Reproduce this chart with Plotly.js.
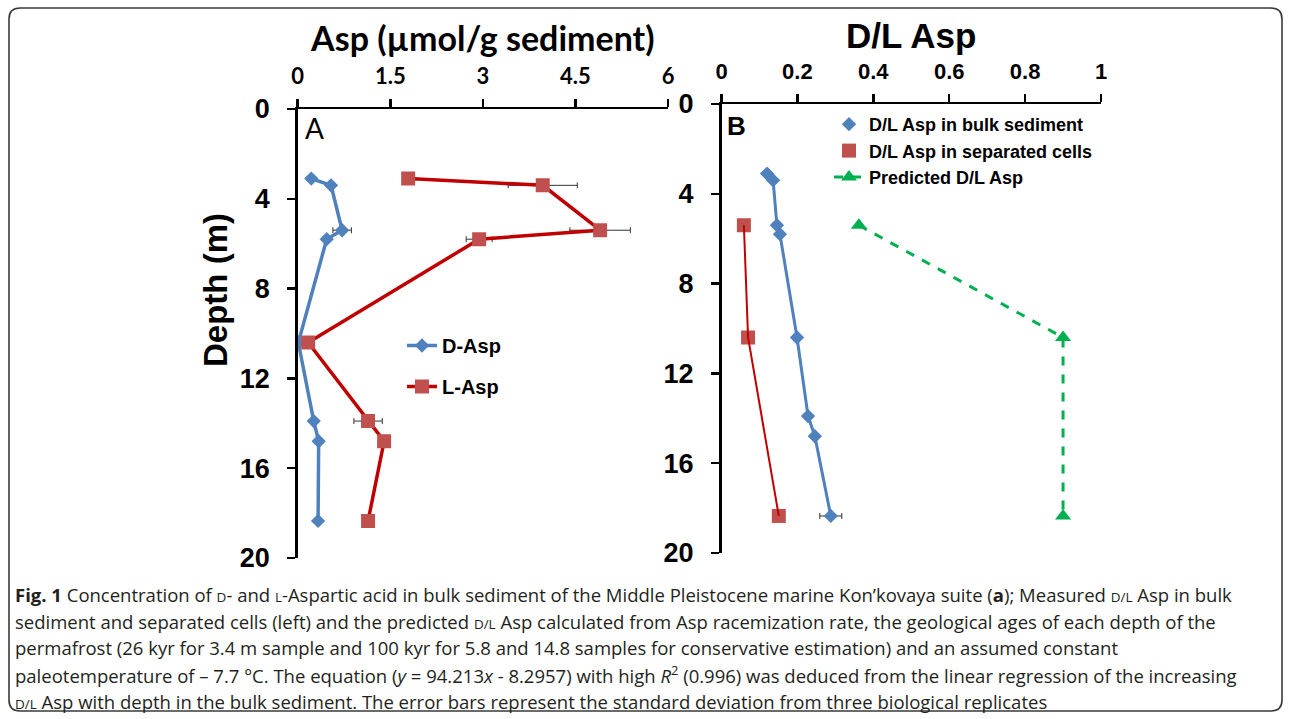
<!DOCTYPE html>
<html>
<head>
<meta charset="utf-8">
<script src="https://cdn.plot.ly/plotly-3.0.1.min.js"></script>
<style>html,body{margin:0;padding:0;background:#fff;} #chart{width:1290px;height:719px;}</style>
</head>
<body>
<div id="chart"></div>
<script>
// ---- Data ----
const depthBulk = [3.1, 3.4, 5.4, 5.8, 10.4, 13.9, 14.8, 18.35];
const dAsp      = [0.22, 0.54, 0.72, 0.47, 0.01, 0.26, 0.34, 0.33];
const dAspSD    = [0, 0, 0.15, 0, 0, 0, 0, 0];
const lAsp      = [1.79, 3.97, 4.90, 2.94, 0.17, 1.14, 1.40, 1.14];
const lAspSD    = [0, 0.56, 0.49, 0.21, 0, 0.23, 0, 0];

const dlBulk    = [0.120, 0.136, 0.146, 0.154, 0.199, 0.228, 0.246, 0.288];
const dlBulkSD  = [0, 0, 0.01, 0, 0, 0.008, 0, 0.029];
const depthCells = [5.4, 10.4, 18.35];
const dlCells    = [0.059, 0.070, 0.151];
const depthPred  = [5.4, 10.4, 18.35];
const dlPred     = [0.362, 0.900, 0.900];

const ticksA = [0, 1.5, 3, 4.5, 6];
const ticksALabels = ["0", "1.5", "3", "4.5", "6"];
const ticksB = [0, 0.2, 0.4, 0.6, 0.8, 1];
const ticksBLabels = ["0", "0.2", "0.4", "0.6", "0.8", "1"];
const depthTicks = [0, 4, 8, 12, 16, 20];
const depthTickLabels = ["0", "4", "8", "12", "16", "20"];

const SC = '<span style="font-size:13.5px">';
const captionLines = [
  "<b>Fig. 1</b> Concentration of " + SC + "D</span>- and " + SC + "L</span>-Aspartic acid in bulk sediment of the Middle Pleistocene marine Kon\u2019kovaya suite (<b>a</b>); Measured " + SC + "D/L</span> Asp in bulk",
  "sediment and separated cells (left) and the predicted " + SC + "D/L</span> Asp calculated from Asp racemization rate, the geological ages of each depth of the",
  "permafrost (26 kyr for 3.4 m sample and 100 kyr for 5.8 and 14.8 samples for conservative estimation) and an assumed constant",
  "paleotemperature of \u2013 7.7 \u00b0C. The equation (<i>y</i> = 94.213<i>x</i> - 8.2957) with high <i>R</i><sup>2</sup> (0.996) was deduced from the linear regression of the increasing",
  SC + "D/L</span> Asp with depth in the bulk sediment. The error bars represent the standard deviation from three biological replicates"
];

// ---- Layout helpers (pixel -> paper) ----
const W = 1290, H = 719;
const px = v => v / W;
const py = v => 1 - v / H;

const BLUE = '#4F81BD', RED_LINE = '#C00000', RED_MK = '#C0504D', GREEN = '#00B050';
const ERR = {type: 'data', color: '#333333', thickness: 1, width: 3, visible: true};

const data = [
  {x: dAsp, y: depthBulk, xaxis: 'x', yaxis: 'y', name: 'D-Asp', mode: 'lines+markers',
   line: {color: BLUE, width: 3.5}, marker: {symbol: 'diamond', size: 11, color: BLUE},
   error_x: Object.assign({array: dAspSD}, ERR), legend: 'legend', legendgroup: 'a1'},
  {x: lAsp, y: depthBulk, xaxis: 'x', yaxis: 'y', name: 'L-Asp', mode: 'lines+markers',
   line: {color: RED_LINE, width: 3.5}, marker: {symbol: 'square', size: 14, color: RED_MK},
   error_x: Object.assign({array: lAspSD}, ERR), legend: 'legend', legendgroup: 'a2'},

  {x: dlBulk, y: depthBulk, xaxis: 'x2', yaxis: 'y2', name: 'D/L Asp in bulk sediment', mode: 'markers',
   marker: {symbol: 'diamond', size: 11, color: BLUE},
   error_x: Object.assign({array: dlBulkSD}, ERR), legend: 'legend2', legendgroup: 'b1'},
  {x: dlCells, y: depthCells, xaxis: 'x2', yaxis: 'y2', name: 'D/L Asp in separated cells', mode: 'markers',
   marker: {symbol: 'square', size: 14, color: RED_MK}, legend: 'legend2', legendgroup: 'b2'},
  {x: dlBulk, y: depthBulk, xaxis: 'x2', yaxis: 'y2', mode: 'lines', showlegend: false,
   line: {color: BLUE, width: 3}, hoverinfo: 'skip'},
  {x: dlCells, y: depthCells, xaxis: 'x2', yaxis: 'y2', mode: 'lines', showlegend: false,
   line: {color: RED_LINE, width: 2}, hoverinfo: 'skip'},
  {x: dlPred, y: depthPred, xaxis: 'x2', yaxis: 'y2', name: 'Predicted D/L Asp', mode: 'lines+markers',
   line: {color: GREEN, width: 3, dash: 'dash'}, marker: {symbol: 'triangle-up', size: 14, color: GREEN},
   legend: 'legend2', legendgroup: 'b3'}
];

const axisCommon = {
  showline: true, linecolor: '#000', linewidth: 2.5, ticks: 'outside', ticklen: 8,
  tickwidth: 2.5, tickcolor: '#000', showgrid: false, zeroline: false, fixedrange: true
};

const layout = {
  width: W, height: H,
  margin: {l: 0, r: 0, t: 0, b: 0},
  paper_bgcolor: '#fff', plot_bgcolor: 'rgba(0,0,0,0)',
  xaxis: Object.assign({}, axisCommon, {
    domain: [px(297.7), px(668)], range: [0, 6], side: 'top', anchor: 'y',
    tickmode: 'array', tickvals: ticksA, ticktext: ticksALabels, ticklabelstandoff: 6,
    tickfont: {family: 'Lato', size: 22, color: '#000', weight: 'bold'},
    title: {text: 'Asp (\u00b5mol/g sediment)', standoff: 0,
            font: {family: 'Lato', size: 34, color: '#000', weight: 'bold'}}
  }),
  yaxis: Object.assign({}, axisCommon, {
    domain: [py(558), py(109)], range: [20, 0], anchor: 'x',
    tickmode: 'array', tickvals: depthTicks, ticktext: depthTickLabels, ticklabelstandoff: 12,
    tickfont: {family: 'Liberation Sans', size: 27, color: '#000', weight: 'bold'}
  }),
  xaxis2: Object.assign({}, axisCommon, {
    domain: [px(721.5), px(1101)], range: [0, 1], side: 'top', anchor: 'y2',
    tickmode: 'array', tickvals: ticksB, ticktext: ticksBLabels, ticklabelstandoff: 6,
    tickfont: {family: 'Liberation Sans', size: 22, color: '#000', weight: 'bold'},
    title: {text: 'D/L Asp', standoff: 0,
            font: {family: 'Liberation Sans', size: 35, color: '#000', weight: 'bold'}}
  }),
  yaxis2: Object.assign({}, axisCommon, {
    domain: [py(553), py(104)], range: [20, 0], anchor: 'x2',
    tickmode: 'array', tickvals: depthTicks, ticktext: depthTickLabels, ticklabelstandoff: 12,
    tickfont: {family: 'Liberation Sans', size: 27, color: '#000', weight: 'bold'}
  }),
  showlegend: true,
  legend: {x: px(402), y: py(326), xanchor: 'left', yanchor: 'top', bgcolor: 'rgba(0,0,0,0)',
           borderwidth: 0, traceorder: 'grouped', tracegroupgap: 12, itemwidth: 30,
           font: {family: 'Liberation Sans', size: 20, color: '#000', weight: 'bold'}},
  legend2: {x: px(829), y: py(106), xanchor: 'left', yanchor: 'top', bgcolor: 'rgba(0,0,0,0)',
            borderwidth: 0, traceorder: 'grouped', tracegroupgap: 0, itemwidth: 30,
            font: {family: 'Liberation Sans', size: 18, color: '#000', weight: 'bold'}},
  annotations: [
    {text: 'Depth (m)', xref: 'paper', yref: 'paper', x: px(215), y: py(290), xanchor: 'center', yanchor: 'middle',
     textangle: -90, showarrow: false, font: {family: 'Liberation Sans', size: 33, color: '#000', weight: 'bold'}},
    {text: 'A', xref: 'paper', yref: 'paper', x: px(303), y: py(128), xanchor: 'left', yanchor: 'middle',
     showarrow: false, font: {family: 'Lato', size: 28, color: '#000'}},
    {text: 'B', xref: 'paper', yref: 'paper', x: px(725), y: py(126), xanchor: 'left', yanchor: 'middle',
     showarrow: false, font: {family: 'Liberation Sans', size: 26, color: '#000', weight: 'bold'}}
  ],
  shapes: []
};

const capY = [594, 621, 647, 674, 701];
captionLines.forEach((t, i) => {
  layout.annotations.push({text: t, xref: 'paper', yref: 'paper', x: px(13), y: py(capY[i]),
    xanchor: 'left', yanchor: 'middle', align: 'left', showarrow: false,
    font: {family: 'Open Sans', size: 18.5, color: '#231F20'}});
});

// rounded border frame
(function () {
  const L = 9, T = 8, R = 1282, B = 711, r = 11;
  const p = [
    `M ${px(L + r)},${py(T)}`, `L ${px(R - r)},${py(T)}`, `Q ${px(R)},${py(T)} ${px(R)},${py(T + r)}`,
    `L ${px(R)},${py(B - r)}`, `Q ${px(R)},${py(B)} ${px(R - r)},${py(B)}`,
    `L ${px(L + r)},${py(B)}`, `Q ${px(L)},${py(B)} ${px(L)},${py(B - r)}`,
    `L ${px(L)},${py(T + r)}`, `Q ${px(L)},${py(T)} ${px(L + r)},${py(T)}`, 'Z'
  ].join(' ');
  layout.shapes.push({type: 'path', xref: 'paper', yref: 'paper', path: p,
    line: {color: '#3a3a3a', width: 1.6}, fillcolor: 'rgba(0,0,0,0)', layer: 'below'});
})();

Plotly.newPlot('chart', data, layout, {displayModeBar: false, staticPlot: true});
</script>
</body>
</html>
